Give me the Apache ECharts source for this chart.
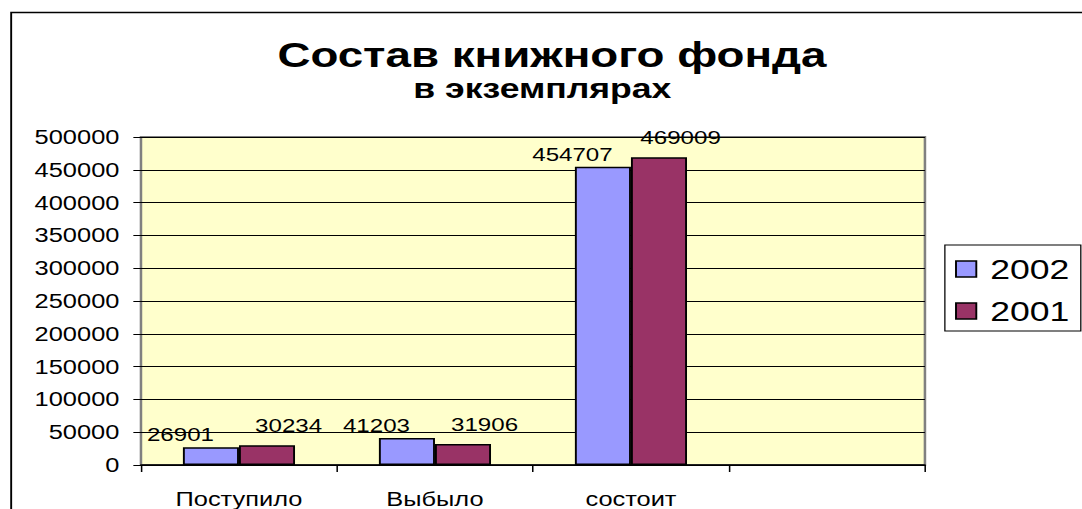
<!DOCTYPE html>
<html><head><meta charset="utf-8">
<script src="https://cdn.jsdelivr.net/npm/echarts@6/dist/echarts.min.js"></script>
<style>
html,body{margin:0;padding:0;background:#fff;overflow:hidden}
#wrap{width:1082px;height:509px;overflow:hidden;position:relative}
#chart{width:852px;height:509px;transform:scaleX(1.27);transform-origin:0 0}
</style></head>
<body><div id="wrap"><div id="chart"></div></div>
<script>
const titleText = 'Состав книжного фонда';
const subtitleText = 'в экземплярах';
const categories = ['Поступило', 'Выбыло', 'состоит', ''];
const seriesNames = ['2002', '2001'];
const values2002 = [26901, 41203, 454707, null];
const values2001 = [30234, 31906, 469009, null];
const yMin = 0, yMax = 500000, yStep = 50000;

const FONT = '"Liberation Sans", Arial, sans-serif';
const chart = echarts.init(document.getElementById('chart'), null, {renderer: 'svg'});
chart.setOption({
  animation: false,
  backgroundColor: '#fff',
  textStyle: {fontFamily: FONT, color: '#000'},
  graphic: [{
    type: 'rect', left: 6.3, top: 10, silent: true,
    shape: {width: 900, height: 600},
    style: {fill: 'none', stroke: '#000', lineWidth: 1.5}
  }],
  title: [
    {text: titleText, left: 434.6, top: 37, textAlign: 'center', padding: 0,
     textStyle: {fontFamily: FONT, fontSize: 36, fontWeight: 'bold', color: '#000'}},
    {text: subtitleText, left: 427, top: 74, textAlign: 'center', padding: 0,
     textStyle: {fontFamily: FONT, fontSize: 28, fontWeight: 'bold', color: '#000'}}
  ],
  legend: {
    orient: 'vertical', left: 744, top: 245,
    padding: [10, 9, 6, 8], itemGap: 14,
    itemWidth: 16, itemHeight: 16, icon: 'rect',
    borderColor: '#000', borderWidth: 1, backgroundColor: '#fff',
    textStyle: {fontFamily: FONT, fontSize: 28, color: '#000', padding: [0, 0, 0, 6]},
    itemStyle: {borderColor: '#000', borderWidth: 1.5},
    data: seriesNames
  },
  grid: {
    left: 111, right: 123.7, top: 137, bottom: 42,
    show: true, backgroundColor: '#FFFFCC', borderColor: '#808080', borderWidth: 2,
    containLabel: false
  },
  xAxis: {
    type: 'category', data: categories,
    axisLine: {show: true, lineStyle: {color: '#000', width: 1.5}},
    axisTick: {show: true, length: 7, lineStyle: {color: '#000', width: 1.2}},
    axisLabel: {fontFamily: FONT, fontSize: 20, color: '#000', margin: 24, interval: 0},
    splitLine: {show: false}
  },
  yAxis: {
    type: 'value', min: yMin, max: yMax, interval: yStep,
    axisLine: {show: false},
    axisTick: {show: true, length: 6, lineStyle: {color: '#000', width: 1}},
    axisLabel: {fontFamily: FONT, fontSize: 20, color: '#000', margin: 17,
                formatter: function (v) { return String(v); }},
    splitLine: {show: true, lineStyle: {color: '#000', width: 1}}
  },
  series: [
    {name: seriesNames[0], type: 'bar', data: values2002,
     barGap: '0%', barCategoryGap: '42.8%',
     itemStyle: {color: '#9999FF', borderColor: '#000', borderWidth: 1.5},
     label: {show: true, position: 'top', distance: 3, offset: [-24, 0],
             fontFamily: FONT, fontSize: 19, color: '#000'}},
    {name: seriesNames[1], type: 'bar', data: values2001,
     barGap: '0%', barCategoryGap: '42.8%',
     itemStyle: {color: '#993366', borderColor: '#000', borderWidth: 1.5},
     label: {show: true, position: 'top', distance: 10, offset: [17, 0],
             fontFamily: FONT, fontSize: 19, color: '#000'}}
  ]
});
</script>
</body></html>
